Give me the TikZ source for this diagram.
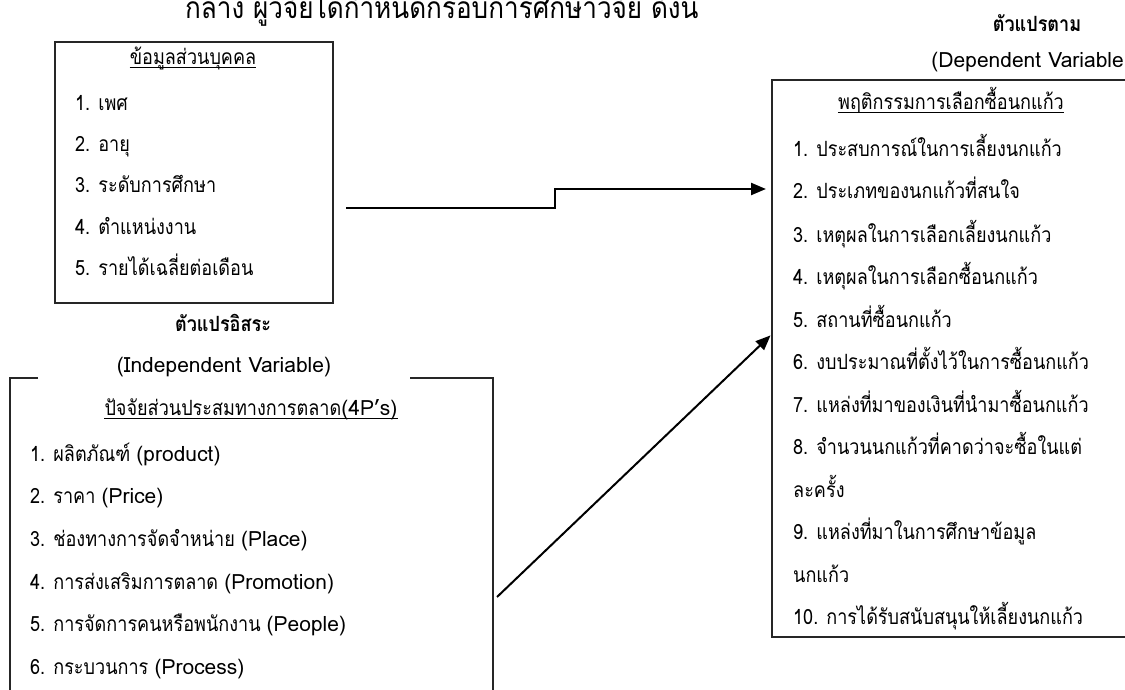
\documentclass[tikz,border=0pt]{standalone}
\usepackage{fontspec}
\setmainfont[Script=Thai,FakeStretch=0.86]{Loma}
\newfontfamily\latfont{Loma}
\newfontfamily\condfont[Script=Thai,FakeStretch=0.87]{Loma}
\newcommand\lat[1]{{\latfont #1}}
\usetikzlibrary{arrows.meta, positioning}
\tikzset{
  frame/.style = {line width=1.6pt, black!85},
  link/.style = {line width=2.4pt, -{Triangle[length=15pt, width=12pt]}},
  item/.style = {anchor=base west, inner sep=0pt, font=\fontsize{21}{25}\selectfont},
  heading/.style = {anchor=base, inner sep=0pt, font=\fontsize{21}{25}\selectfont},
  bar/.style = {line width=1pt}
}

\begin{document}
\begin{tikzpicture}[x=1pt, y=-1pt]

  \useasboundingbox (0,0) rectangle (1125,690);

  % Lead-in line (cut at the top)
  \node[anchor=base west, inner sep=0pt, font=\condfont\fontsize{30}{34}\selectfont] (intro) at (185,19)
    {กลาง ผู้วิจัยได้กำหนดกรอบการศึกษาวิจัย ดังนี้};

  %% Personal data
  \draw[frame] (55,42) rectangle (333,303);
  \node[heading] (perstitle) at (193,65) {ข้อมูลส่วนบุคคล};
  \draw[bar] ([yshift=-3pt]perstitle.base west) -- ([yshift=-3pt]perstitle.base east);
  \node[item] (pers1) at (75,111) {1. เพศ};
  \node[item] (pers2) at (75,152) {2. อายุ};
  \node[item] (pers3) at (75,193) {3. ระดับการศึกษา};
  \node[item] (pers4) at (75,234) {4. ตำแหน่งงาน};
  \node[item] (pers5) at (75,275) {5. รายได้เฉลี่ยต่อเดือน};

  % Independent variable label
  \node[heading, font=\fontsize{21}{25}\selectfont\bfseries] (indep) at (223,331) {ตัวแปรอิสระ};
  \node[heading] (indeplabel) at (224,372) {\lat{(Independent Variable)}};

  %% Marketing mix
  \draw[frame, line width=1.4pt] (38,378) -- (10,378) -- (10,700);
  \draw[frame, line width=1.4pt] (410,378) -- (493,378) -- (493,700);
  \node[heading] (mixtitle) at (251,415) {ปัจจัยส่วนประสมทางการตลาด\lat{(4P’s)}};
  \draw[bar] ([yshift=-3pt]mixtitle.base west) -- ([yshift=-3pt]mixtitle.base east);
  \node[item] (mix1) at (30,461) {1. ผลิตภัณฑ์ \lat{(product)}};
  \node[item] (mix2) at (30,503) {2. ราคา \lat{(Price)}};
  \node[item] (mix3) at (30,546) {3. ช่องทางการจัดจำหน่าย \lat{(Place)}};
  \node[item] (mix4) at (30,589) {4. การส่งเสริมการตลาด \lat{(Promotion)}};
  \node[item] (mix5) at (30,631) {5. การจัดการคนหรือพนักงาน \lat{(People)}};
  \node[item] (mix6) at (30,674) {6. กระบวนการ \lat{(Process)}};

  % Dependent variable label
  \node[heading, font=\fontsize{21}{25}\selectfont\bfseries] (dep) at (1037,32) {ตัวแปรตาม};
  \node[item, anchor=base east] (deplabel) at (1124,68) {\lat{(Dependent Variable}};

  %% Buying behaviour
  \draw[frame] (772,80) rectangle (1140,637);
  \node[heading] (behtitle) at (951,110) {พฤติกรรมการเลือกซื้อนกแก้ว};
  \draw[bar] ([yshift=-3pt]behtitle.base west) -- ([yshift=-3pt]behtitle.base east);
  \node[item] (beh1) at (793,157) {1. ประสบการณ์ในการเลี้ยงนกแก้ว};
  \node[item] (beh2) at (793,199) {2. ประเภทของนกแก้วที่สนใจ};
  \node[item] (beh3) at (793,242) {3. เหตุผลในการเลือกเลี้ยงนกแก้ว};
  \node[item] (beh4) at (793,284) {4. เหตุผลในการเลือกซื้อนกแก้ว};
  \node[item] (beh5) at (793,327) {5. สถานที่ซื้อนกแก้ว};
  \node[item] (beh6) at (793,369) {6. งบประมาณที่ตั้งไว้ในการซื้อนกแก้ว};
  \node[item] (beh7) at (793,412) {7. แหล่งที่มาของเงินที่นำมาซื้อนกแก้ว};
  \node[item] (beh8) at (793,454) {8. จำนวนนกแก้วที่คาดว่าจะซื้อในแต่};
  \node[item] (beh8b) at (793,497) {ละครั้ง};
  \node[item] (beh9) at (793,539) {9. แหล่งที่มาในการศึกษาข้อมูล};
  \node[item] (beh9b) at (793,582) {นกแก้ว};
  \node[item] (beh10) at (793,624) {10. การได้รับสนับสนุนให้เลี้ยงนกแก้ว};

  % Links
  \coordinate (persout) at (346,208);
  \coordinate (stepup) at (555,208);
  \coordinate (behin) at (772,189);
  \draw[link, shorten >=6pt] (persout) -- (stepup) |- (behin);

  \coordinate (mixout) at (497,597);
  \coordinate (behin2) at (772,334);
  \draw[link, line width=2pt, shorten >=2pt] (mixout) -- (behin2);

\end{tikzpicture}
\end{document}
